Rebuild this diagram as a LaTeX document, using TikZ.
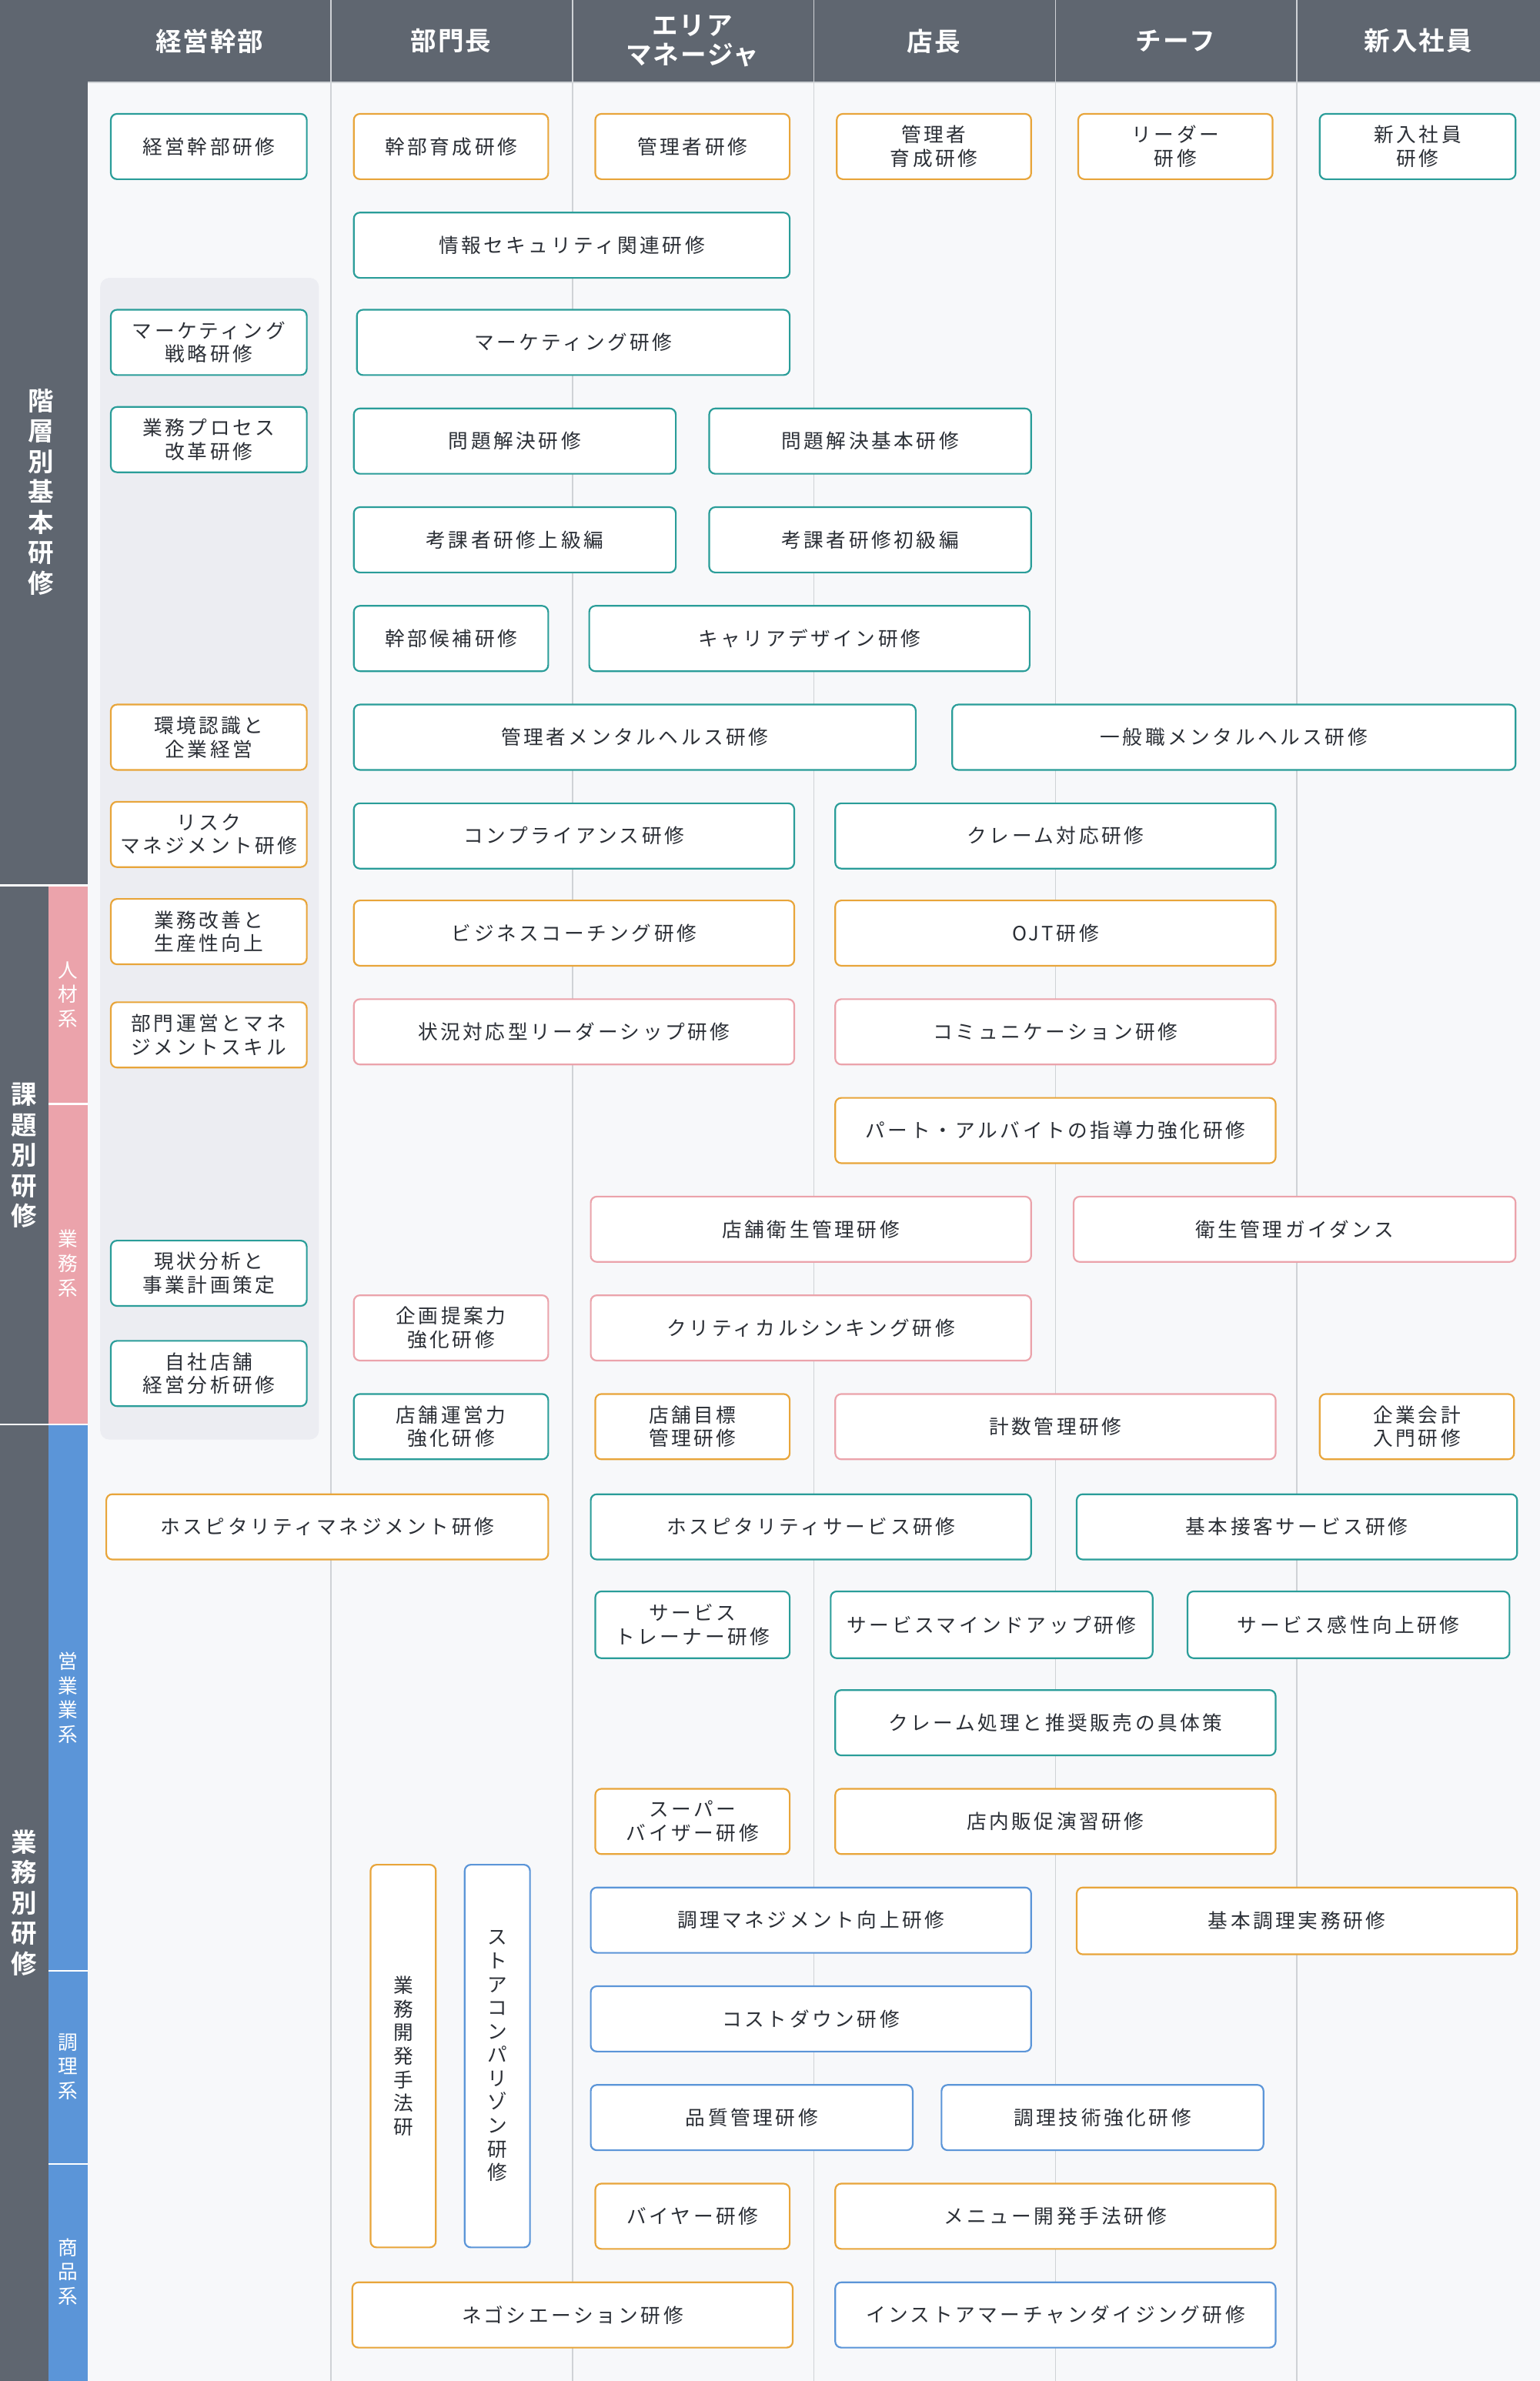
\documentclass[tikz,border=0pt]{standalone}
\usepackage{fontspec}
\setmainfont{Noto Sans CJK JP}
\newfontfamily\boxfont[LetterSpace=14]{Noto Sans CJK JP}
\newfontfamily\headfont[LetterSpace=6]{Noto Sans CJK JP Bold}
\definecolor{slate}{HTML}{5F6670}
\definecolor{gridbg}{HTML}{F7F8FA}
\definecolor{gridln}{HTML}{CFD2D6}
\definecolor{panel}{HTML}{ECEDF2}
\definecolor{tealc}{HTML}{2A9D99}
\definecolor{orangec}{HTML}{E8A53A}
\definecolor{pinkc}{HTML}{EBA3AB}
\definecolor{bluec}{HTML}{5B95D8}
\definecolor{ink}{HTML}{2B2F36}
\tikzset{
  kbox/.style={draw, fill=white, rounded corners=4pt, line width=1.1pt, text=ink,
    align=center, inner sep=0pt, font=\boxfont\fontsize{13}{15.5}\selectfont},
  tb/.style={kbox, draw=tealc},
  ob/.style={kbox, draw=orangec},
  pb/.style={kbox, draw=pinkc},
  bb/.style={kbox, draw=bluec},
  headtxt/.style={text=white, align=center, font=\headfont\fontsize{17}{19}\selectfont},
  sidetxt/.style={text=white, align=center, font=\headfont\fontsize{17}{20}\selectfont},
  subtxt/.style={text=white, align=center, font=\boxfont\fontsize{13}{16}\selectfont}
}
\newcommand\kb[7]{\node[#6, minimum width=#4pt-#2pt, minimum height=#5pt-#3pt] (#1) at ({(#2+#4)/2},{(#3+#5)/2}) {#7};}
\begin{document}
\begin{tikzpicture}[x=1pt,y=-1pt]
\useasboundingbox (0,0) rectangle (1014,1568);
%背景と罫線
\fill[gridbg] (58,54) rectangle (1014,1568);
\foreach \x in {218,377,536,695,854}
  \draw[gridln, line width=0.8pt] (\x,54) -- (\x,1568);
\fill[panel, rounded corners=6pt] (66,183) rectangle (210,948);
%見出し
\fill[slate] (58,0) rectangle (1014,54);
\foreach \x in {218,377,536,695,854}
  \draw[gridln, line width=0.8pt] (\x,0) -- (\x,54);
\draw[gridln, line width=1pt] (58,54) -- (1014,54);
\node[headtxt] (h1) at (138,27) {経営幹部};
\node[headtxt] (h2) at (297,27) {部門長};
\node[headtxt] (h3) at (456,27) {エリア\\マネージャ};
\node[headtxt] (h4) at (615,27) {店長};
\node[headtxt] (h5) at (774,27) {チーフ};
\node[headtxt] (h6) at (934,27) {新入社員};
%左の区分
\fill[slate] (0,0) rectangle (58,1568);
\fill[pinkc] (32,583) rectangle (58,938);
\fill[bluec] (32,938) rectangle (58,1568);
\draw[white, line width=1.2pt] (0,583) -- (58,583);
\draw[white, line width=1.2pt] (0,938) -- (58,938);
\draw[white, line width=1.2pt] (32,727) -- (58,727);
\draw[white, line width=1.2pt] (32,1298) -- (58,1298);
\draw[white, line width=1.2pt] (32,1425) -- (58,1425);
\node[sidetxt] (s1) at (27,324) {階\\層\\別\\基\\本\\研\\修};
\node[sidetxt] (s2) at (16,761) {課\\題\\別\\研\\修};
\node[sidetxt] (s3) at (16,1253) {業\\務\\別\\研\\修};
\node[subtxt] (t1) at (45,655) {人\\材\\系};
\node[subtxt] (t2) at (45,832) {業\\務\\系};
\node[subtxt] (t3) at (45,1118) {営\\業\\業\\系};
\node[subtxt] (t4) at (45,1361) {調\\理\\系};
\node[subtxt] (t5) at (45,1496) {商\\品\\系};
%研修
\kb{a1}{73}{75}{202}{118}{tb}{経営幹部研修}
\kb{a2}{233}{75}{361}{118}{ob}{幹部育成研修}
\kb{a3}{392}{75}{520}{118}{ob}{管理者研修}
\kb{a4}{551}{75}{679}{118}{ob}{管理者\\育成研修}
\kb{a5}{710}{75}{838}{118}{ob}{リーダー\\研修}
\kb{a6}{869}{75}{998}{118}{tb}{新入社員\\研修}
\kb{b1}{233}{140}{520}{183}{tb}{情報セキュリティ関連研修}
\kb{c1}{73}{204}{202}{247}{tb}{マーケティング\\戦略研修}
\kb{c2}{235}{204}{520}{247}{tb}{マーケティング研修}
\kb{d1}{73}{268}{202}{311}{tb}{業務プロセス\\改革研修}
\kb{d2}{233}{269}{445}{312}{tb}{問題解決研修}
\kb{d3}{467}{269}{679}{312}{tb}{問題解決基本研修}
\kb{e1}{233}{334}{445}{377}{tb}{考課者研修上級編}
\kb{e2}{467}{334}{679}{377}{tb}{考課者研修初級編}
\kb{f1}{233}{399}{361}{442}{tb}{幹部候補研修}
\kb{f2}{388}{399}{678}{442}{tb}{キャリアデザイン研修}
\kb{g1}{73}{464}{202}{507}{ob}{環境認識と\\企業経営}
\kb{g2}{233}{464}{603}{507}{tb}{管理者メンタルヘルス研修}
\kb{g3}{627}{464}{998}{507}{tb}{一般職メンタルヘルス研修}
\kb{h1}{73}{528}{202}{571}{ob}{リスク\\マネジメント研修}
\kb{h2}{233}{529}{523}{572}{tb}{コンプライアンス研修}
\kb{h3}{550}{529}{840}{572}{tb}{クレーム対応研修}
\kb{i1}{73}{592}{202}{635}{ob}{業務改善と\\生産性向上}
\kb{i2}{233}{593}{523}{636}{ob}{ビジネスコーチング研修}
\kb{i3}{550}{593}{840}{636}{ob}{OJT研修}
\kb{j1}{73}{660}{202}{703}{ob}{部門運営とマネ\\ジメントスキル}
\kb{j2}{233}{658}{523}{701}{pb}{状況対応型リーダーシップ研修}
\kb{j3}{550}{658}{840}{701}{pb}{コミュニケーション研修}
\kb{k1}{550}{723}{840}{766}{ob}{パート・アルバイトの指導力強化研修}
\kb{l1}{389}{788}{679}{831}{pb}{店舗衛生管理研修}
\kb{l2}{707}{788}{998}{831}{pb}{衛生管理ガイダンス}
\kb{m1}{73}{817}{202}{860}{tb}{現状分析と\\事業計画策定}
\kb{m2}{233}{853}{361}{896}{pb}{企画提案力\\強化研修}
\kb{m3}{389}{853}{679}{896}{pb}{クリティカルシンキング研修}
\kb{m4}{73}{883}{202}{926}{tb}{自社店舗\\経営分析研修}
\kb{n1}{233}{918}{361}{961}{tb}{店舗運営力\\強化研修}
\kb{n2}{392}{918}{520}{961}{ob}{店舗目標\\管理研修}
\kb{n3}{550}{918}{840}{961}{pb}{計数管理研修}
\kb{n4}{869}{918}{997}{961}{ob}{企業会計\\入門研修}
\kb{o1}{70}{984}{361}{1027}{ob}{ホスピタリティマネジメント研修}
\kb{o2}{389}{984}{679}{1027}{tb}{ホスピタリティサービス研修}
\kb{o3}{709}{984}{999}{1027}{tb}{基本接客サービス研修}
\kb{p1}{392}{1048}{520}{1092}{tb}{サービス\\トレーナー研修}
\kb{p2}{547}{1048}{759}{1092}{tb}{サービスマインドアップ研修}
\kb{p3}{782}{1048}{994}{1092}{tb}{サービス感性向上研修}
\kb{q1}{550}{1113}{840}{1156}{tb}{クレーム処理と推奨販売の具体策}
\kb{r1}{392}{1178}{520}{1221}{ob}{スーパー\\バイザー研修}
\kb{r2}{550}{1178}{840}{1221}{ob}{店内販促演習研修}
\kb{v1}{244}{1228}{287}{1480}{ob}{業\\務\\開\\発\\手\\法\\研}
\kb{v2}{306}{1228}{349}{1480}{bb}{ス\\ト\\ア\\コ\\ン\\パ\\リ\\ゾ\\ン\\研\\修}
\kb{s1}{389}{1243}{679}{1286}{bb}{調理マネジメント向上研修}
\kb{s2}{709}{1243}{999}{1287}{ob}{基本調理実務研修}
\kb{u1}{389}{1308}{679}{1351}{bb}{コストダウン研修}
\kb{w1}{389}{1373}{601}{1416}{bb}{品質管理研修}
\kb{w2}{620}{1373}{832}{1416}{bb}{調理技術強化研修}
\kb{y1}{392}{1438}{520}{1481}{ob}{バイヤー研修}
\kb{y2}{550}{1438}{840}{1481}{ob}{メニュー開発手法研修}
\kb{z1}{232}{1503}{522}{1546}{ob}{ネゴシエーション研修}
\kb{z2}{550}{1503}{840}{1546}{bb}{インストアマーチャンダイジング研修}
\end{tikzpicture}
\end{document}
